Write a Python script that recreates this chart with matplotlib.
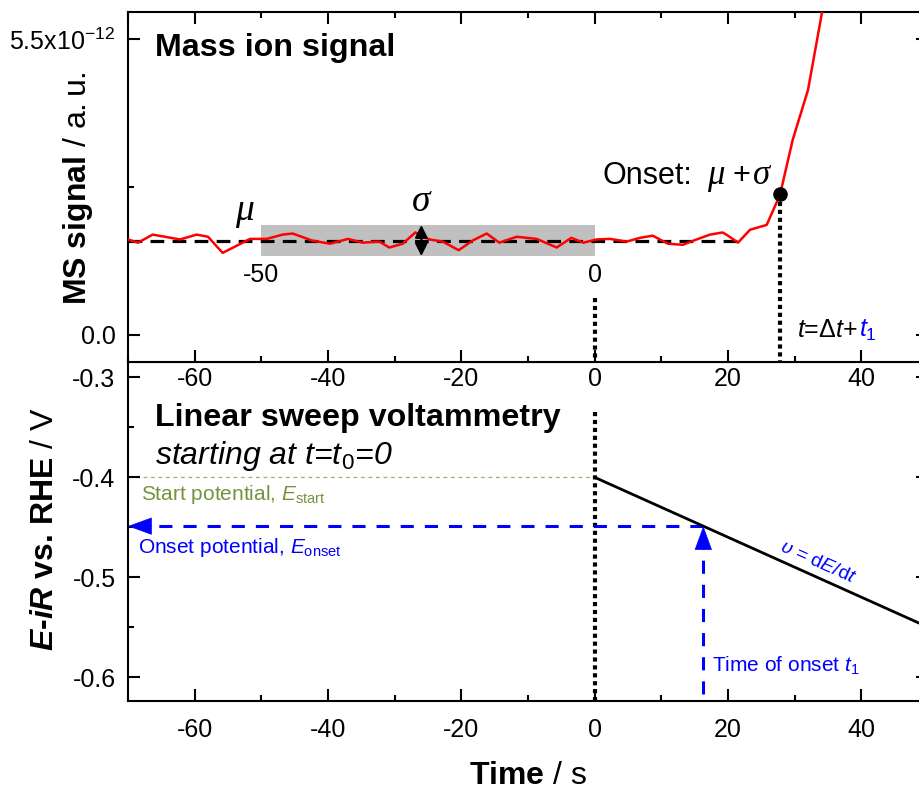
import matplotlib
matplotlib.use("Agg")
import matplotlib.pyplot as plt
from matplotlib.ticker import MultipleLocator, FixedLocator
from matplotlib.patches import Rectangle

plt.rcParams["font.family"] = ["Liberation Sans", "DejaVu Sans"]
plt.rcParams["mathtext.fontset"] = "custom"
plt.rcParams["mathtext.rm"] = "Liberation Sans"
plt.rcParams["mathtext.it"] = "Liberation Sans:italic"
plt.rcParams["mathtext.bf"] = "Liberation Sans:bold"
plt.rcParams["mathtext.bfit"] = "Liberation Sans:italic:bold"
plt.rcParams["mathtext.sf"] = "Liberation Sans"
plt.rcParams["axes.unicode_minus"] = False
plt.rcParams["axes.linewidth"] = 1.5

# MS signal (a.u., in units of 1e-12)
time_ms = [-70, -68.5, -66.3, -62.2, -59.7, -58.0, -55.8, -51.7, -49.2, -46.8,
           -45.3, -42.4, -39.7, -37.0, -34.8, -32.3, -30.8, -28.8, -26.9, -24.8,
           -22.8, -20.4, -18.3, -16.2, -14.3, -11.7, -8.7, -5.7, -3.5, -1.7,
           0.3, 2.3, 4.8, 6.8, 8.7, 11.0, 13.2, 15.3, 17.3, 19.2,
           20.0, 21.5, 23.3, 25.8, 27.8, 29.7, 32.0, 34.1, 36.0]
ms_signal = [1.77, 1.71, 1.86, 1.77, 1.86, 1.82, 1.52, 1.78, 1.78, 1.86,
             1.88, 1.75, 1.69, 1.78, 1.71, 1.73, 1.62, 1.69, 1.90, 1.77,
             1.73, 1.57, 1.75, 1.88, 1.71, 1.82, 1.78, 1.62, 1.80, 1.71,
             1.77, 1.78, 1.73, 1.80, 1.84, 1.69, 1.67, 1.77, 1.86, 1.90,
             1.84, 1.71, 1.95, 2.04, 2.60, 3.62, 4.55, 5.99, 7.30]
ms_signal = [v * 1e-12 for v in ms_signal]

mu = 1.75e-12
sigma = 0.29e-12
baseline_window = [-50, 0]
onset_t = 27.75
onset_ms = 2.62e-12

# linear sweep
sweep_t = [0, 50]
sweep_E = [-0.40, -0.55]
E_start = -0.40
t1 = 16.3
E_onset = -0.4489

fig = plt.figure(figsize=(9.19, 7.91), dpi=100)
W, H = 919, 791
ax2 = fig.add_axes([128 / W, 1 - 701 / H, 800 / W, 339.5 / H])
ax1 = fig.add_axes([128 / W, 1 - 361.5 / H, 800 / W, 349.5 / H])

# ---------------- top: mass ion signal
ax1.add_patch(Rectangle((baseline_window[0], mu - sigma), baseline_window[1] - baseline_window[0],
                        2 * sigma, facecolor="#c0c0c0", edgecolor="none", zorder=1))
ax1.plot([-70, 21.5], [mu, mu], color="black", lw=2.3, ls=(0, (4.3, 2.6)), zorder=2)
ax1.plot(time_ms, ms_signal, color="red", lw=1.8, zorder=3)
ax1.plot([onset_t], [onset_ms], "o", color="black", ms=9.5, zorder=4)
ax1.plot([onset_t, onset_t], [onset_ms, -0.5e-12], color="black", lw=3, ls=(0, (1, 0.9)), zorder=2)
ax1.plot([0, 0], [0.68e-12, -0.5e-12], color="black", lw=3, ls=(0, (1, 0.9)), zorder=2)
ax1.annotate("", xy=(-26, mu - sigma), xytext=(-26, mu + sigma),
             arrowprops=dict(arrowstyle="<|-|>,head_length=0.5,head_width=0.25",
                             color="black", lw=1.6, shrinkA=0, shrinkB=0, mutation_scale=15),
             zorder=5)

ax1.text(0.034, 0.897, "Mass ion signal", transform=ax1.transAxes, fontsize=23.2,
         fontweight="bold", ha="left", va="center")
ax1.text(-54, 2.14e-12, "\u03bc", family="Liberation Serif", style="italic",
         fontsize=27, ha="left", va="baseline")
ax1.text(-26, 2.29e-12, "\u03c3", family="Liberation Serif", style="italic",
         fontsize=27, ha="center", va="baseline")
ax1.text(-50, 1.10e-12, "-50", fontsize=18, ha="center", va="center")
ax1.text(0, 1.10e-12, "0", fontsize=18, ha="center", va="center")
ax1.text(1.2, 2.81e-12, "Onset:", fontsize=22, ha="left", va="baseline")
ax1.text(16.8, 2.81e-12, "\u03bc", family="Liberation Serif", style="italic",
         fontsize=25, ha="left", va="baseline")
ax1.text(20.6, 2.81e-12, "+", fontsize=22, ha="left", va="baseline")
ax1.text(23.8, 2.81e-12, "\u03c3", family="Liberation Serif", style="italic",
         fontsize=25, ha="left", va="baseline")
ax1.text(30.3, -0.04e-12, r"$t$=$\Delta t$+", fontsize=18, ha="left", va="baseline")
ax1.text(39.6, -0.04e-12, r"$t_1$", fontsize=18, color="blue", ha="left", va="baseline")

ax1.set_xlim(-70, 50)
ax1.set_ylim(-0.5e-12, 6.0e-12)
ax1.xaxis.set_major_locator(MultipleLocator(20))
ax1.xaxis.set_minor_locator(MultipleLocator(10))
ax1.yaxis.set_major_locator(FixedLocator([0, 5.5e-12]))
ax1.yaxis.set_minor_locator(FixedLocator([2.75e-12]))
ax1.set_yticklabels(["0.0", r"5.5x10$^{-12}$"])
ax1.tick_params(which="both", direction="in", top=True, right=True, width=1.5, labelsize=18)
ax1.tick_params(which="major", length=8.5)
ax1.tick_params(which="minor", length=4.5)
ax1.tick_params(axis="x", pad=4)
ax1.tick_params(axis="y", pad=9)

# ---------------- bottom: linear sweep voltammetry
ax2.plot([-70, 0], [E_start, E_start], color="#a8a878", lw=0.9, ls=(0, (3, 3)), zorder=1)
ax2.plot(sweep_t, sweep_E, color="black", lw=2.0, zorder=3)
ax2.plot([0, 0], [-0.335, -0.625], color="black", lw=3, ls=(0, (1, 0.9)), zorder=2)
ax2.plot([t1, -67], [E_onset, E_onset], color="blue", lw=2.2, ls=(0, (4.3, 3.6)), zorder=2)
ax2.plot([t1, t1], [-0.617, E_onset - 0.02], color="blue", lw=2.2, ls=(0, (4.3, 3.6)), zorder=2)
ax2.annotate("", xy=(-70, E_onset), xytext=(-66.5, E_onset),
             arrowprops=dict(arrowstyle="-|>,head_length=1.15,head_width=0.42",
                             color="blue", lw=0.5, shrinkA=0, shrinkB=0, mutation_scale=14))
ax2.annotate("", xy=(t1, E_onset), xytext=(t1, E_onset - 0.022),
             arrowprops=dict(arrowstyle="-|>,head_length=1.15,head_width=0.42",
                             color="blue", lw=0.5, shrinkA=0, shrinkB=0, mutation_scale=14))

ax2.text(0.034, 0.835, "Linear sweep voltammetry", transform=ax2.transAxes, fontsize=23.2,
         fontweight="bold", ha="left", va="center")
ax2.text(-66, -0.387, r"starting at t=t$_0$=0", fontsize=23, style="italic",
         ha="left", va="baseline")
ax2.text(-68.1, -0.423, r"Start potential, $E_{\mathrm{start}}$", fontsize=15,
         color="#76923c", ha="left", va="baseline")
ax2.text(-68.5, -0.476, r"Onset potential, $E_{\mathrm{onset}}$", fontsize=15,
         color="blue", ha="left", va="baseline")
ax2.text(17.6, -0.595, r"Time of onset $t_1$", fontsize=15, color="blue",
         ha="left", va="baseline")
ax2.text(33.5, -0.485, r"$\upsilon$ = d$E$/d$t$", fontsize=14, color="blue", rotation=-24,
         rotation_mode="anchor", ha="center", va="center")

ax2.set_xlim(-70, 50)
ax2.set_ylim(-0.624, -0.284)
ax2.xaxis.set_major_locator(MultipleLocator(20))
ax2.xaxis.set_minor_locator(MultipleLocator(10))
ax2.yaxis.set_major_locator(MultipleLocator(0.1))
ax2.yaxis.set_minor_locator(MultipleLocator(0.05))
ax2.yaxis.set_major_formatter(matplotlib.ticker.FormatStrFormatter("%.1f"))
ax2.tick_params(which="both", direction="in", top=False, right=True, width=1.5, labelsize=18)
ax2.tick_params(which="major", length=8.5)
ax2.tick_params(which="minor", length=4.5)
ax2.tick_params(axis="x", pad=12)
ax2.tick_params(axis="y", pad=9)

# axis labels
fig.text(78 / W, 1 - 188 / H, r"MS signal $\mathrm{/\ a.u.}$", rotation=90, fontsize=23,
         fontweight="bold", ha="center", va="center")
fig.text(45 / W, 1 - 529 / H, r"$\mathbfit{E}$-$\mathbfit{iR}$ vs. RHE $\mathrm{/\ V}$",
         rotation=90, fontsize=23, fontweight="bold", ha="center", va="center")
fig.text(528 / W, 1 - 776 / H, r"Time $\mathrm{/\ s}$", fontsize=23, fontweight="bold",
         ha="center", va="center")

fig.savefig("out.png", dpi=100)
